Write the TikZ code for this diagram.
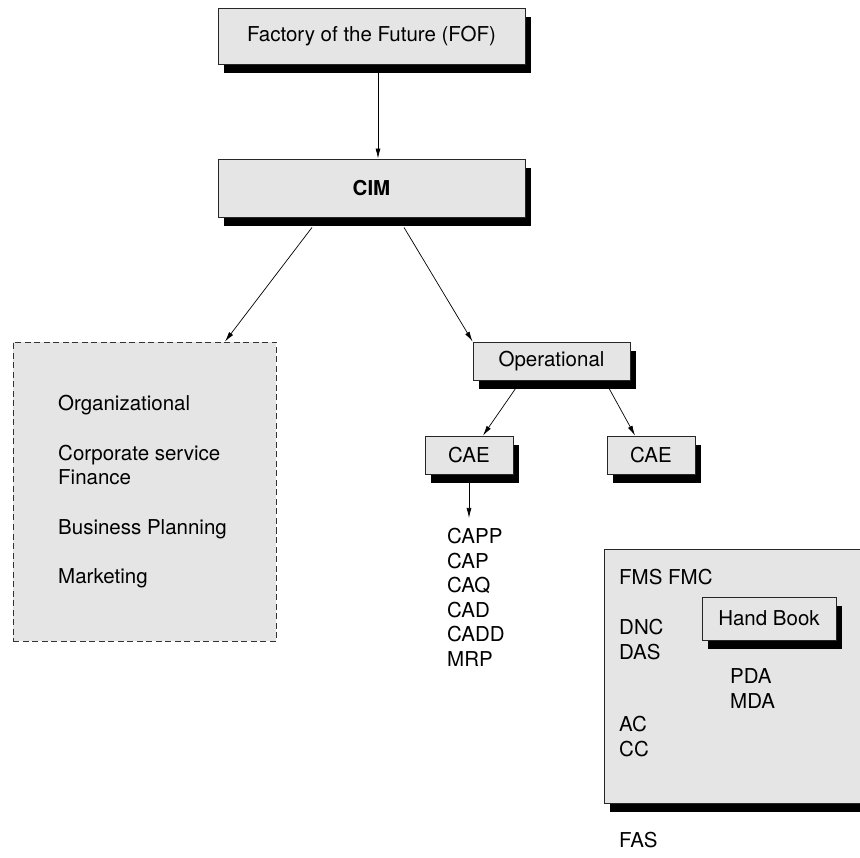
\documentclass[tikz,border=0pt]{standalone}
\usepackage{fontspec}
\setmainfont{TeX Gyre Heros}
\usetikzlibrary{shadows}
\usetikzlibrary{arrows.meta}
\usetikzlibrary{positioning}
\definecolor{boxgray}{gray}{0.9}
\tikzstyle{cbox}   = [fill=boxgray, draw=black!85, line width=0.9pt, inner sep=0pt,
                      drop shadow={shadow xshift=6pt, shadow yshift=-9pt, fill=black, opacity=1}]
\tikzstyle{cdash}  = [fill=boxgray, draw=black!80, line width=0.9pt, dash pattern=on 6pt off 3.5pt, inner sep=0pt]
\tikzstyle{clabel} = [anchor=base west, inner sep=0pt, align=left]
\tikzstyle{carrow} = [-{Latex[length=10pt,width=5pt]}, line width=0.7pt]

\begin{document}
\begin{tikzpicture}[x=1pt, y=-1pt, font=\fontsize{20.5}{24.5}\selectfont]
  \useasboundingbox (0,0) rectangle (860,858);
  % top of the tree
  \node[cbox, minimum width=307pt, minimum height=56pt] (fof) at (371.5,36) {Factory of the Future (FOF)};
  \node[cbox, minimum width=307pt, minimum height=58pt] (cim) at (371.5,188) {\textbf{CIM}};
  % organizational side (base = last line)
  \node[cdash, minimum width=263pt, minimum height=299pt] (org) at (144.5,491.5) {};
  \node[clabel] (orgname) at (58,411) {Organizational};
  \node[clabel] (corp) at (58,485) {Corporate service\\Finance};
  \node[clabel] (busplan) at (58,534) {Business Planning};
  \node[clabel] (market) at (58,583) {Marketing};
  % operational side
  \node[cbox, minimum width=157pt, minimum height=38pt] (oper) at (551.5,361) {Operational};
  \node[cbox, minimum width=88pt, minimum height=38pt] (caeL) at (469,455) {CAE};
  \node[cbox, minimum width=88pt, minimum height=38pt] (caeR) at (651,455) {CAE};
  \node[clabel] (list) at (447,666) {CAPP\\CAP\\CAQ\\CAD\\CADD\\MRP};
  % shop floor
  \node[cbox, minimum width=266pt, minimum height=254pt] (shop) at (737,676) {};
  \node[clabel] (fms) at (619,584) {FMS FMC};
  \node[clabel] (dnc) at (619,659) {DNC\\DAS};
  \node[cbox, minimum width=134pt, minimum height=43pt] (hbook) at (769,618.5) {Hand Book};
  \node[clabel] (pda) at (730,708) {PDA\\MDA};
  \node[clabel] (acc) at (619,756) {AC\\CC};
  \node[clabel] (fas) at (619,847) {FAS};
  % connectors
  \draw[carrow] ([xshift=6.5pt,yshift=-8pt]fof.south) -- ([xshift=6.5pt]cim.north);
  \draw[carrow] ([xshift=-59.5pt,yshift=-10pt]cim.south) -- ([xshift=80.5pt]org.north);
  \draw[carrow] ([xshift=32.5pt,yshift=-10pt]cim.south) -- (oper.north west);
  \draw[carrow] ([xshift=-34.5pt,yshift=-6pt]oper.south) -- ([xshift=14pt]caeL.north);
  \draw[carrow] ([xshift=56.5pt,yshift=-6pt]oper.south) -- ([xshift=-16pt]caeR.north);
  \draw[carrow, shorten >=10pt] ([yshift=-6pt]caeL.south) -- (caeL.south |- list.north);
\end{tikzpicture}
\end{document}
